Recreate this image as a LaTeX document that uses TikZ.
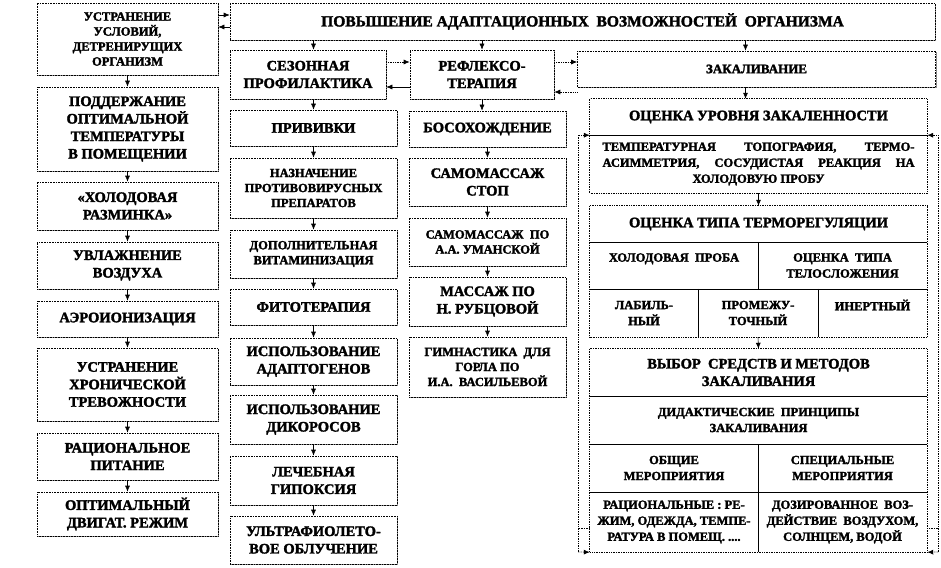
\documentclass[tikz,border=0pt]{standalone}
\usepackage{fontspec}
\setmainfont{Liberation Serif}[BoldFeatures={FakeBold=2}]
\usetikzlibrary{arrows.meta,shadows}

\tikzset{
  box/.style={draw, densely dotted, line width=0.6pt, fill=white, align=center, inner sep=0pt,
    drop shadow={shadow xshift=1.2pt, shadow yshift=-1.2pt, fill=black!45, opacity=1}},
  cell/.style={align=center, inner sep=0pt},
  tip/.style={-{Latex[length=6pt,width=5pt]}},
  arr/.style={tip, solid, line width=0.6pt},
  fb/.style={densely dotted, line width=0.7pt},
  ttl/.style={font=\fontsize{15.5}{18}\selectfont\bfseries},
  lg/.style={font=\fontsize{14.5}{17.5}\selectfont\bfseries},
  md/.style={font=\fontsize{13}{17}\selectfont\bfseries},
  sm/.style={font=\fontsize{12.5}{15}\selectfont\bfseries},
  xs/.style={font=\fontsize{12.5}{16}\selectfont\bfseries},
}

\begin{document}
\begin{tikzpicture}[x=1pt, y=-1pt]
    \useasboundingbox (0,0) rectangle (941,567);
    % Top
    \node[box, ttl, minimum width=705pt, minimum height=37pt] (top) at (582.5,21.5)
        {ПОВЫШЕНИЕ АДАПТАЦИОННЫХ\ \ ВОЗМОЖНОСТЕЙ\ \ ОРГАНИЗМА};
    % Left column
    \node[box, sm, minimum width=181pt, minimum height=72pt] (l1) at (127.5,39)
        {УСТРАНЕНИЕ\\УСЛОВИЙ,\\ДЕТРЕНИРУЩИХ\\ОРГАНИЗМ};
    \node[box, lg, minimum width=181pt, minimum height=84pt] (l2) at (127.5,129)
        {ПОДДЕРЖАНИЕ\\ОПТИМАЛЬНОЙ\\ТЕМПЕРАТУРЫ\\В ПОМЕЩЕНИИ};
    \node[box, lg, minimum width=181pt, minimum height=48pt] (l3) at (127.5,206)
        {«ХОЛОДОВАЯ\\РАЗМИНКА»};
    \node[box, lg, minimum width=181pt, minimum height=47pt] (l4) at (127.5,265.5)
        {УВЛАЖНЕНИЕ\\ВОЗДУХА};
    \node[box, lg, minimum width=181pt, minimum height=36pt] (l5) at (127.5,319)
        {АЭРОИОНИЗАЦИЯ};
    \node[box, lg, minimum width=181pt, minimum height=73pt] (l6) at (127.5,384.5)
        {УСТРАНЕНИЕ\\ХРОНИЧЕСКОЙ\\ТРЕВОЖНОСТИ};
    \node[box, lg, minimum width=181pt, minimum height=47pt] (l7) at (127.5,456.5)
        {РАЦИОНАЛЬНОЕ\\ПИТАНИЕ};
    \node[box, lg, minimum width=181pt, minimum height=44pt] (l8) at (127.5,514)
        {ОПТИМАЛЬНЫЙ\\ДВИГАТ. РЕЖИМ};
    % Seasonal prophylaxis
    \node[box, lg, minimum width=156pt, minimum height=49pt] (sez) at (308,74.5)
        {СЕЗОННАЯ\\ПРОФИЛАКТИКА};
    \node[box, lg, minimum width=167pt, minimum height=36pt] (priv) at (313.5,128) {ПРИВИВКИ};
    \node[box, sm, minimum width=167pt, minimum height=60pt] (nazn) at (313.5,188)
        {НАЗНАЧЕНИЕ\\ПРОТИВОВИРУСНЫХ\\ПРЕПАРАТОВ};
    \node[box, sm, minimum width=167pt, minimum height=48pt] (dop) at (313.5,254)
        {ДОПОЛНИТЕЛЬНАЯ\\ВИТАМИНИЗАЦИЯ};
    \node[box, lg, minimum width=167pt, minimum height=36pt] (fito) at (313.5,307) {ФИТОТЕРАПИЯ};
    \node[box, lg, minimum width=167pt, minimum height=47pt] (adapt) at (313.5,361.5)
        {ИСПОЛЬЗОВАНИЕ\\АДАПТОГЕНОВ};
    \node[box, lg, minimum width=167pt, minimum height=49pt] (dikor) at (313.5,419.5)
        {ИСПОЛЬЗОВАНИЕ\\ДИКОРОСОВ};
    \node[box, lg, minimum width=167pt, minimum height=49pt] (gipo) at (313.5,480.5)
        {ЛЕЧЕБНАЯ\\ГИПОКСИЯ};
    \node[box, lg, minimum width=167pt, minimum height=48pt] (uf) at (313.5,540)
        {УЛЬТРАФИОЛЕТО-\\ВОЕ ОБЛУЧЕНИЕ};
    % Reflexotherapy
    \node[box, lg, minimum width=144pt, minimum height=49pt] (refl) at (482,74.5)
        {РЕФЛЕКСО-\\ТЕРАПИЯ};
    \node[box, lg, minimum width=157pt, minimum height=36pt] (bos) at (487.5,129) {БОСОХОЖДЕНИЕ};
    \node[box, lg, minimum width=157pt, minimum height=48pt] (samst) at (487.5,182)
        {САМОМАССАЖ\\СТОП};
    \node[box, sm, minimum width=157pt, minimum height=48pt] (uman) at (487.5,242)
        {САМОМАССАЖ\ \ ПО\\А.А. УМАНСКОЙ};
    \node[box, lg, minimum width=157pt, minimum height=49pt] (rubc) at (487.5,301.5)
        {МАССАЖ ПО\\Н. РУБЦОВОЙ};
    \node[box, sm, minimum width=157pt, minimum height=60pt] (gimn) at (487.5,367)
        {ГИМНАСТИКА\ \ ДЛЯ\\ГОРЛА ПО\\И.А.\ \ ВАСИЛЬЕВОЙ};
    % Hardening
    \node[box, md, minimum width=358pt, minimum height=36pt] (zak) at (756.5,69) {ЗАКАЛИВАНИЕ};
    % Hardening level
    \node[cell, lg, minimum width=337pt, minimum height=36pt] (oc1a) at (758.5,117)
        {ОЦЕНКА УРОВНЯ ЗАКАЛЕННОСТИ};
    \node[cell, xs, minimum width=337pt, minimum height=58pt] (oc1b) at (758.5,164)
        {\makebox[312pt][s]{ТЕМПЕРАТУРНАЯ\ \ ТОПОГРАФИЯ,\ \ ТЕРМО-}\\
         \makebox[312pt][s]{АСИММЕТРИЯ, СОСУДИСТАЯ РЕАКЦИЯ НА}\\ХОЛОДОВУЮ ПРОБУ};
    \draw[fb] (oc1a.north west) rectangle (oc1b.south east);
    \draw (oc1a.south west) -- (oc1a.south east);
    % Thermoregulation type
    \node[cell, lg, minimum width=337pt, minimum height=36pt] (oc2a) at (758.5,224)
        {ОЦЕНКА ТИПА ТЕРМОРЕГУЛЯЦИИ};
    \node[cell, xs, minimum width=168pt, minimum height=47pt] (oc2b) at (674,265.5)
        {ХОЛОДОВАЯ\ \ ПРОБА\\~};
    \node[cell, xs, minimum width=169pt, minimum height=47pt] (oc2c) at (842.5,265.5)
        {ОЦЕНКА\ \ ТИПА\\ТЕЛОСЛОЖЕНИЯ};
    \node[cell, xs, minimum width=108pt, minimum height=48pt] (oc2d) at (644,313)
        {ЛАБИЛЬ-\\НЫЙ};
    \node[cell, xs, minimum width=120pt, minimum height=48pt] (oc2e) at (758,313)
        {ПРОМЕЖУ-\\ТОЧНЫЙ};
    \node[cell, xs, minimum width=109pt, minimum height=48pt] (oc2f) at (872.5,313)
        {ИНЕРТНЫЙ\\~};
    \draw[fb] (oc2a.north west) rectangle (oc2f.south east);
    \draw (oc2a.south west) -- (oc2a.south east);
    \draw (oc2b.south west) -- (oc2c.south east);
    \draw (oc2b.north east) -- (oc2b.south east);
    \draw (oc2d.north east) -- (oc2d.south east);
    \draw (oc2e.north east) -- (oc2e.south east);
    % Choice of means
    \node[cell, lg, minimum width=337pt, minimum height=47pt] (oc3a) at (758.5,372.5)
        {ВЫБОР\ \ СРЕДСТВ И МЕТОДОВ\\ЗАКАЛИВАНИЯ};
    \node[cell, xs, minimum width=337pt, minimum height=48pt] (oc3b) at (758.5,420)
        {ДИДАКТИЧЕСКИЕ\ \ ПРИНЦИПЫ\\ЗАКАЛИВАНИЯ};
    \node[cell, xs, minimum width=168pt, minimum height=48pt] (oc3c) at (674,468)
        {ОБЩИЕ\\МЕРОПРИЯТИЯ};
    \node[cell, xs, minimum width=169pt, minimum height=48pt] (oc3d) at (842.5,468)
        {СПЕЦИАЛЬНЫЕ\\МЕРОПРИЯТИЯ};
    \node[cell, xs, minimum width=168pt, minimum height=60pt] (oc3e) at (674,522)
        {РАЦИОНАЛЬНЫЕ : РЕ-\\ЖИМ, ОДЕЖДА, ТЕМПЕ-\\РАТУРА В ПОМЕЩ. ....};
    \node[cell, xs, minimum width=169pt, minimum height=60pt] (oc3f) at (842.5,522)
        {ДОЗИРОВАННОЕ\ \ ВОЗ-\\ДЕЙСТВИЕ\ \ ВОЗДУХОМ,\\СОЛНЦЕМ, ВОДОЙ};
    \draw[fb] (oc3a.north west) rectangle (oc3f.south east);
    \draw (oc3a.south west) -- (oc3a.south east);
    \draw (oc3b.south west) -- (oc3b.south east);
    \draw (oc3c.south west) -- (oc3d.south east);
    \draw (oc3c.north east) -- (oc3e.south east);
    % Arrows, left column
    \draw[arr] ([yshift=6.5pt]top.west -| l1.east) -- ([yshift=6.5pt]top.west);
    \draw[arr] ([yshift=-5.5pt]top.west) -- ([yshift=-5.5pt]top.west -| l1.east);
    \draw[arr] (l1.south) -- (l2.north);
    \draw[arr] (l2.south) -- (l3.north);
    \draw[arr] (l3.south) -- (l4.north);
    \draw[arr] (l4.south) -- (l5.north);
    \draw[arr] (l5.south) -- (l6.north);
    \draw[arr] (l6.south) -- (l7.north);
    \draw[arr] (l7.south) -- (l8.north);
    % Arrows, middle
    \draw[arr] (priv.north |- top.south) -- (priv.north |- sez.north);
    \draw[arr] (refl.north |- top.south) -- (refl.north);
    \draw[arr] ([xshift=-11pt]zak.north |- top.south) -- ([xshift=-11pt]zak.north);
    \draw[fb, tip] ([yshift=12.5pt]sez.east) -- ([yshift=12.5pt]sez.east -| refl.west);
    \draw[arr] ([yshift=-12.5pt]refl.west) -- ([yshift=-12.5pt]refl.west -| sez.east);
    \draw[fb, tip] ([yshift=12.5pt]refl.east) -- ([yshift=12.5pt]refl.east -| zak.west);
    \draw[fb, tip] ([yshift=-17.5pt]refl.east -| zak.west) -- ([yshift=-17.5pt]refl.east);
    \draw[arr] (priv.north |- sez.south) -- (priv.north);
    \draw[arr] (priv.south) -- (nazn.north);
    \draw[arr] (nazn.south) -- (dop.north);
    \draw[arr] (dop.south) -- (fito.north);
    \draw[arr] (fito.south) -- (adapt.north);
    \draw[arr] (adapt.south) -- (dikor.north);
    \draw[arr] (dikor.south) -- (gipo.north);
    \draw[arr] (gipo.south) -- (uf.north);
    \draw[arr] (refl.south) -- (refl.south |- bos.north);
    \draw[arr] (bos.south) -- (samst.north);
    \draw[arr] (samst.south) -- (uman.north);
    \draw[arr] (uman.south) -- (rubc.north);
    \draw[arr] (rubc.south) -- (gimn.north);
    % Arrows, right
    \draw[arr] ([xshift=-11pt]zak.south) -- ([xshift=-11pt]zak.south |- oc1a.north);
    \draw[arr] (oc1b.south) -- (oc2a.north);
    \draw[arr] (oc2e.south) -- (oc3a.north);
    % Feedback
    \coordinate (fbl) at (578,552);
    \coordinate (fbr) at (938,552);
    \draw[fb] ([yshift=-6pt]oc3e.west) -- ([yshift=-6pt]oc3e.west -| fbl);
    \draw[fb] ([yshift=-6pt]oc3f.east) -- ([yshift=-6pt]oc3f.east -| fbr);
    \draw[fb, tip] (fbl) |- (oc1a.south west);
    \draw[fb, tip] (fbr) |- (oc1a.south east);
    \draw[fb, tip] (fbl) -- (oc3e.south west);
    \draw[fb, tip] (fbr) -- (oc3f.south east);
\end{tikzpicture}
\end{document}
